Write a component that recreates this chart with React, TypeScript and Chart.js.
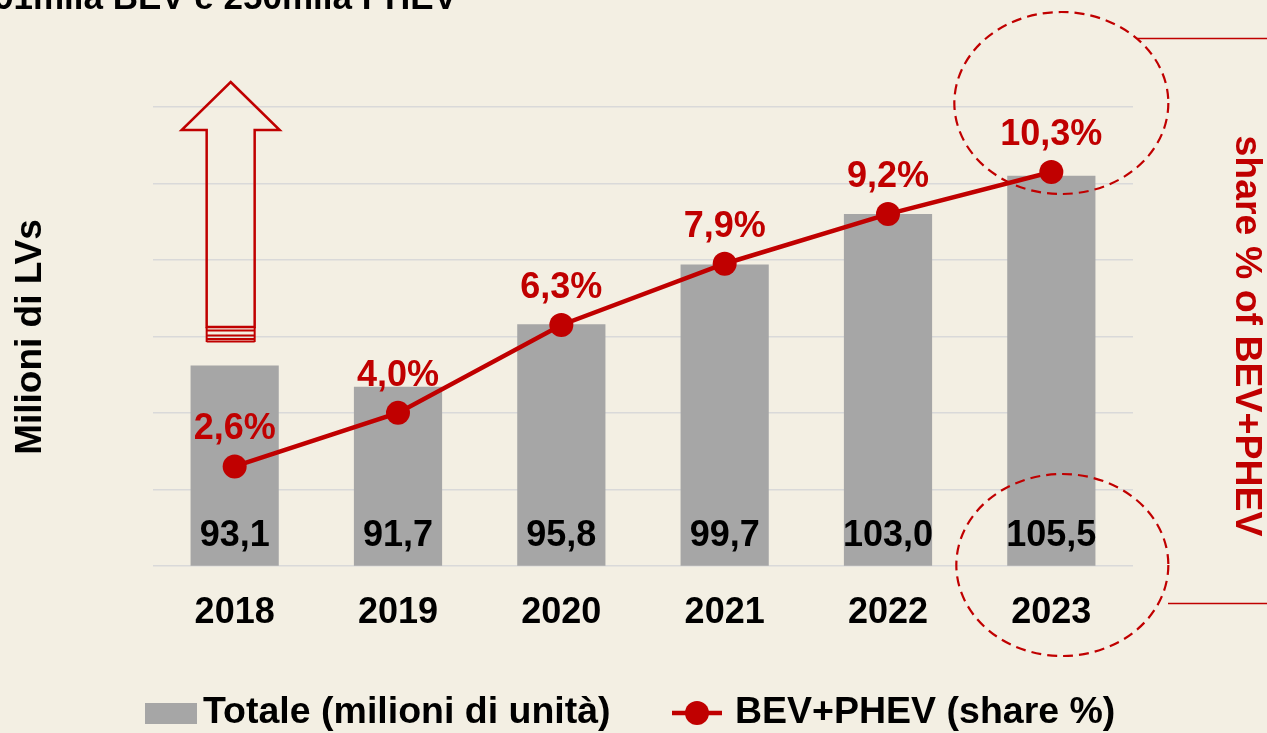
import React, { useEffect, useRef } from "react";
import { Chart, registerables } from "chart.js";

Chart.register(...registerables);

// ---- data ----
const years = ["2018", "2019", "2020", "2021", "2022", "2023"];
const totals = [93.1, 91.7, 95.8, 99.7, 103.0, 105.5];
const shares = [2.6, 4.0, 6.3, 7.9, 9.2, 10.3];
const totalLabel = "Totale (milioni di unità)";
const shareLabel = "BEV+PHEV (share %)";
const leftTitle = "Milioni di LVs";
const rightTitle = "share % of BEV+PHEV";
const topTitle = "91mila BEV e 250mila PHEV";
const leftAxis = { min: 80, max: 110, step: 5 };
const rightAxis = { min: 0, max: 12 };

const BG = "#f3efe3";
const RED = "#c00000";
const GREY = "#a6a6a6";
const FONT = "'Liberation Sans', Arial, sans-serif";

const fmt = (v: number) => v.toFixed(1).replace(".", ",");

const decorPlugin = {
  id: "decor",
  beforeDraw(chart: any) {
    const ctx = chart.ctx;
    ctx.save();
    ctx.fillStyle = BG;
    ctx.fillRect(0, 0, chart.width, chart.height);
    ctx.restore();
  },
  afterDatasetsDraw(chart: any) {
    const ctx = chart.ctx;
    const area = chart.chartArea;
    ctx.save();
    ctx.font = `bold 36px ${FONT}`;
    ctx.textAlign = "center";
    ctx.textBaseline = "middle";
    // bar value labels
    const barMeta = chart.getDatasetMeta(0);
    barMeta.data.forEach((el: any, i: number) => {
      ctx.fillStyle = "#000000";
      ctx.fillText(fmt(totals[i]), el.x, area.bottom - 30);
    });
    // share labels
    const lineMeta = chart.getDatasetMeta(1);
    lineMeta.data.forEach((el: any, i: number) => {
      ctx.fillStyle = RED;
      ctx.fillText(fmt(shares[i]) + "%", el.x, el.y - 37);
    });
    ctx.restore();
  },
  afterDraw(chart: any) {
    const ctx = chart.ctx;
    const xs = chart.scales.x;
    ctx.save();

    // top (cut) title
    ctx.font = `bold 35px ${FONT}`;
    ctx.fillStyle = "#000000";
    ctx.textAlign = "right";
    ctx.textBaseline = "alphabetic";
    ctx.fillText(topTitle, 457, 9);

    // left axis title
    ctx.save();
    ctx.translate(31, 337);
    ctx.rotate(-Math.PI / 2);
    ctx.font = `bold 37px ${FONT}`;
    ctx.textAlign = "center";
    ctx.textBaseline = "middle";
    ctx.fillStyle = "#000000";
    ctx.fillText(leftTitle, 0, 0);
    ctx.restore();

    // right axis title
    ctx.save();
    ctx.translate(1246, 336);
    ctx.rotate(Math.PI / 2);
    ctx.font = `bold 37.5px ${FONT}`;
    ctx.textAlign = "center";
    ctx.textBaseline = "middle";
    ctx.fillStyle = RED;
    ctx.fillText(rightTitle, 0, 0);
    ctx.restore();

    // arrow outline above 2018
    const cx = xs.getPixelForValue(0) - 4;
    ctx.strokeStyle = RED;
    ctx.lineWidth = 2.5;
    ctx.lineJoin = "miter";
    ctx.beginPath();
    ctx.moveTo(cx, 82);
    ctx.lineTo(cx + 49, 130);
    ctx.lineTo(cx + 24, 130);
    ctx.lineTo(cx + 24, 327);
    ctx.lineTo(cx - 24, 327);
    ctx.lineTo(cx - 24, 130);
    ctx.lineTo(cx - 49, 130);
    ctx.closePath();
    ctx.stroke();
    ctx.lineWidth = 2;
    [330.5, 335.5, 339, 341.5].forEach((y) => {
      ctx.beginPath();
      ctx.moveTo(cx - 24, y);
      ctx.lineTo(cx + 24, y);
      ctx.stroke();
    });
    ctx.beginPath();
    ctx.moveTo(cx - 24, 327);
    ctx.lineTo(cx - 24, 342);
    ctx.moveTo(cx + 24, 327);
    ctx.lineTo(cx + 24, 342);
    ctx.stroke();

    // dashed ellipses around 2023
    const ex = xs.getPixelForValue(5) + 10;
    ctx.setLineDash([10, 6]);
    ctx.lineWidth = 2.2;
    ctx.beginPath();
    ctx.ellipse(ex, 103, 107, 91, 0, 0, Math.PI * 2);
    ctx.stroke();
    ctx.beginPath();
    ctx.ellipse(ex + 1, 565, 106, 91, 0, 0, Math.PI * 2);
    ctx.stroke();
    ctx.setLineDash([]);
    ctx.lineWidth = 1.5;
    ctx.beginPath();
    ctx.moveTo(1137, 38.5);
    ctx.lineTo(chart.width, 38.5);
    ctx.moveTo(1168, 603.5);
    ctx.lineTo(chart.width, 603.5);
    ctx.stroke();

    // legend
    const ly = 713;
    ctx.fillStyle = GREY;
    ctx.fillRect(145, ly - 10, 52, 21);
    ctx.font = `bold 37.5px ${FONT}`;
    ctx.textAlign = "left";
    ctx.textBaseline = "middle";
    ctx.fillStyle = "#000000";
    ctx.fillText(totalLabel, 203, ly);
    ctx.strokeStyle = RED;
    ctx.lineWidth = 4.5;
    ctx.beginPath();
    ctx.moveTo(672, ly);
    ctx.lineTo(722, ly);
    ctx.stroke();
    ctx.fillStyle = RED;
    ctx.beginPath();
    ctx.arc(697, ly, 12, 0, Math.PI * 2);
    ctx.fill();
    ctx.fillStyle = "#000000";
    ctx.fillText(shareLabel, 735, ly);

    ctx.restore();
  },
};

export default function App() {
  const ref = useRef<HTMLCanvasElement | null>(null);
  useEffect(() => {
    document.body.style.margin = "0";
    document.body.style.background = BG;
    const canvas = ref.current!;
    const chart = new Chart(canvas, {
      data: {
        labels: years,
        datasets: [
          {
            type: "bar",
            label: totalLabel,
            data: totals,
            backgroundColor: GREY,
            borderWidth: 0,
            barPercentage: 0.54 / 0.8,
            categoryPercentage: 0.8,
            yAxisID: "y",
            order: 1,
          },
          {
            type: "line",
            label: shareLabel,
            data: shares,
            borderColor: RED,
            backgroundColor: RED,
            borderWidth: 4.5,
            pointRadius: 12,
            pointBackgroundColor: RED,
            pointBorderWidth: 0,
            tension: 0,
            yAxisID: "y1",
            order: 0,
          },
        ],
      } as any,
      options: {
        responsive: false,
        animation: false,
        layout: { padding: { left: 153, right: 134, top: 107, bottom: 72 } },
        plugins: {
          legend: { display: false },
          tooltip: { enabled: false },
          title: { display: false },
        },
        scales: {
          x: {
            grid: { display: false, drawTicks: false },
            border: { display: false },
            ticks: {
              color: "#000000",
              padding: 26,
              font: { family: FONT, size: 36, weight: "bold" },
            },
          },
          y: {
            position: "left",
            min: leftAxis.min,
            max: leftAxis.max,
            ticks: { display: false, stepSize: leftAxis.step },
            grid: { color: "#d9d9d9", lineWidth: 1.5, drawTicks: false },
            border: { display: false },
          },
          y1: {
            position: "right",
            display: false,
            min: rightAxis.min,
            max: rightAxis.max,
            grid: { display: false },
          },
        },
      } as any,
      plugins: [decorPlugin],
    });
    return () => chart.destroy();
  }, []);
  return (
    <div style={{ position: "absolute", left: 0, top: 0, width: 1267, height: 733, background: BG }}>
      <canvas ref={ref} width={1267} height={733} style={{ display: "block" }} />
    </div>
  );
}
